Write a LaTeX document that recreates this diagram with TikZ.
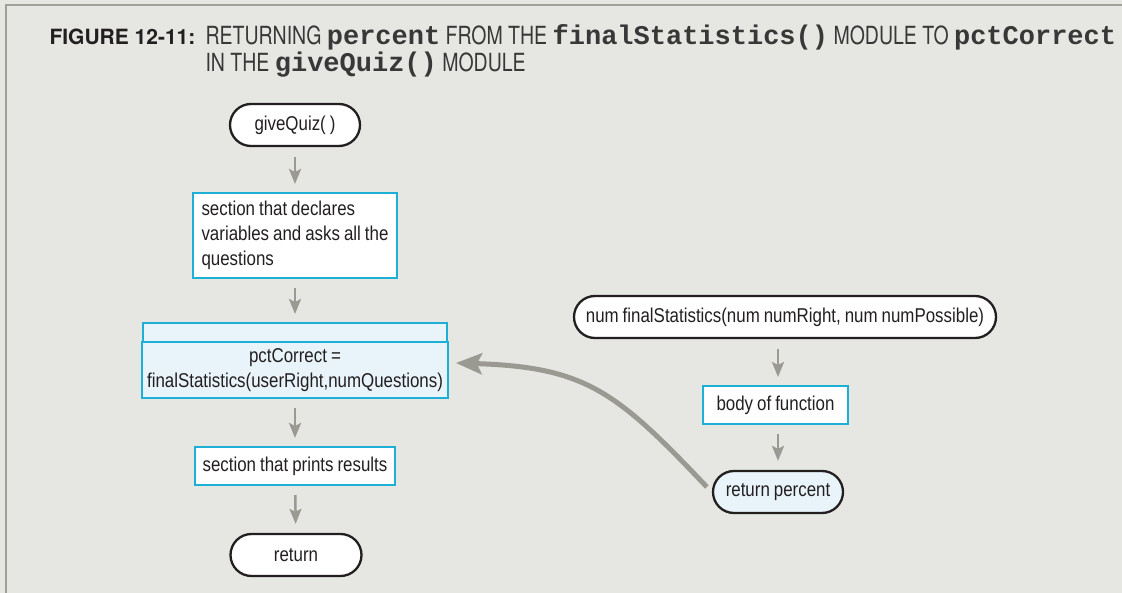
\documentclass[tikz,border=0pt]{standalone}
\usepackage{fontspec}
\setmainfont[FakeStretch=0.845,WordSpace=0.85]{Liberation Sans}
\newfontfamily\capsfont[FakeStretch=0.78]{TeX Gyre Heros}
\newfontfamily\figfont{TeX Gyre Heros}
\newfontfamily\codefont{Liberation Mono}
\usetikzlibrary{arrows.meta}
\definecolor{paper}{HTML}{E6E6E3}
\definecolor{rule}{HTML}{A09F98}
\definecolor{flowgray}{HTML}{9A9A92}
\definecolor{boxcyan}{HTML}{1CB0D6}
\definecolor{callfill}{HTML}{E8F4F9}
\definecolor{ink}{HTML}{231F20}
\newcommand{\code}[1]{{\codefont\bfseries\fontsize{27}{28}\selectfont #1}}

\begin{document}
\begin{tikzpicture}[x=1pt,y=-1pt,
  every node/.style={font=\fontsize{20}{25}\selectfont, text=ink},
  terminal/.style={draw=ink, line width=2.3pt, fill=white, rounded corners=21pt,
    minimum height=42pt, inner xsep=10pt},
  procbox/.style={draw=boxcyan, line width=2.5pt, fill=white, inner xsep=5pt, inner ysep=4pt, outer sep=0pt},
  flow/.style={draw=flowgray, line width=2.5pt, shorten <=10pt, shorten >=9pt,
    -{Stealth[length=15pt,width=12pt,inset=3pt]}},
  goback/.style={draw=flowgray, line width=5pt,
    -{Stealth[length=26pt,width=21pt,inset=5pt]}}]
  \useasboundingbox (0,0) rectangle (1122,593);
  \fill[paper] (0,0) rectangle (1122,593);
  \draw[rule, line width=2.5pt] (6,593) -- (6,5) -- (1122,5);

  % caption
  \node[anchor=base west, font=\figfont\bfseries\fontsize{21}{25}\selectfont] (fig) at (46,45) {FIGURE 12-11:};
  \node[anchor=base west, font=\capsfont\fontsize{25}{28}\selectfont, text=black!78] (cap1) at (202,45)
    {RETURNING \code{percent} FROM THE \code{finalStatistics()} MODULE TO \code{pctCorrect}};
  \node[anchor=base west, font=\capsfont\fontsize{25}{28}\selectfont, text=black!78] (cap2) at (202,72)
    {IN THE \code{giveQuiz()} MODULE};

  % left module
  \node[terminal, minimum width=130pt] (quiz) at (295,125) {giveQuiz( )};
  \node[procbox, minimum width=204pt, minimum height=85pt, align=left] (declare) at (295,235.5)
    {section that declares\\variables and asks all the\\questions};
  \node[procbox, fill=callfill, minimum width=304pt, minimum height=56pt, align=center] (call) at (295,370)
    {pctCorrect =\\finalStatistics(userRight,numQuestions)};
  \node[procbox, fill=callfill, minimum width=304pt, minimum height=19pt, inner ysep=0pt, anchor=south] (callhd) at (call.north) {};
  \node[procbox, minimum width=200pt, minimum height=38pt] (prints) at (295,466) {section that prints results};
  \node[terminal, minimum width=131pt] (ret) at (296,555) {return};

  % right module
  \node[terminal, minimum width=422pt] (fs) at (785,317) {num finalStatistics(num numRight, num numPossible)};
  \node[procbox, minimum width=145pt, minimum height=38pt] (body) at (775.5,405) {body of function};
  \node[terminal, fill=callfill, minimum width=130pt] (retpct) at (778,492) {return percent};

  \draw[flow] (quiz) -- (declare);
  \draw[flow] (declare) -- (callhd);
  \draw[flow] (call) -- (prints.north);
  \draw[flow] (prints) -- (ret);
  \draw[flow] (fs.south -| retpct) -- (body.north -| retpct);
  \draw[flow] (body.south -| retpct) -- (retpct.north);

  \draw[goback] ([xshift=-5pt,yshift=5pt]retpct.west) .. controls +(-90,-95) and +(130,4) .. ([xshift=8pt,yshift=7pt]call.east);
\end{tikzpicture}
\end{document}
